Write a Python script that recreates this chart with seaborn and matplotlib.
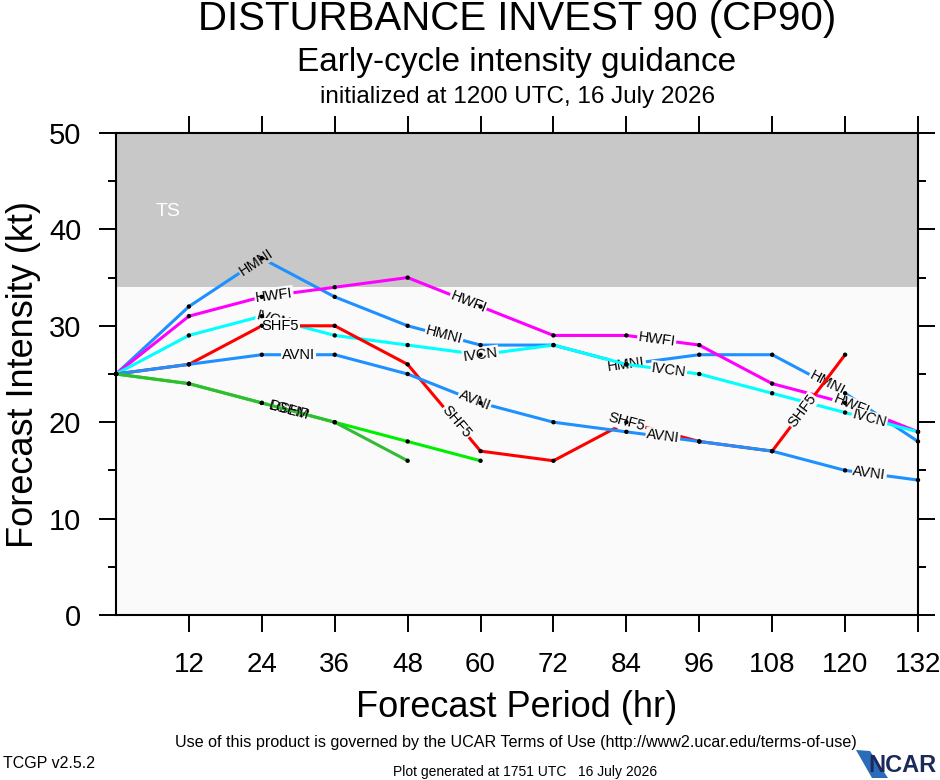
import numpy as np
import pandas as pd
import matplotlib
matplotlib.use("Agg")
import matplotlib.pyplot as plt
import seaborn as sns
from matplotlib.ticker import MultipleLocator
from matplotlib.patches import Polygon

# forecast hours and model intensities (kt)
hours = [0, 12, 24, 36, 48, 60, 72, 84, 96, 108, 120, 132]
hmni = [25, 32, 37, 33, 30, 28, 28, 26, 27, 27, 23, 18]
hwfi = [25, 31, 33, 34, 35, 32, 29, 29, 28, 24, 22, 19]
ivcn = [25, 29, 31, 29, 28, 27, 28, 26, 25, 23, 21, 19]
shf5 = [25, 26, 30, 30, 26, 17, 16, 20, 18, 17, 27, np.nan]
avni = [25, 26, 27, 27, 25, 22, 20, 19, 18, 17, 15, 14]
dshp = [25, 24, 22, 20, 18, 16] + [np.nan] * 6
lgem = [25, 24, 22, 20, 16] + [np.nan] * 7

models = ["HMNI", "HWFI", "IVCN", "SHF5", "AVNI", "DSHP", "LGEM"]
series = [hmni, hwfi, ivcn, shf5, avni, dshp, lgem]
colors = ["#1e90ff", "#ff00ff", "#00ffff", "#ff0000", "#1e90ff", "#00ee00", "#33bb33"]
xticks = [12, 24, 36, 48, 60, 72, 84, 96, 108, 120, 132]
yticks = [0, 10, 20, 30, 40, 50]
ts_floor = 34

# where the inline labels sit along each line (hours)
label_hours = {
    "HMNI": [23, 54, 84, 117],
    "HWFI": [26, 58, 89, 121],
    "IVCN": [26, 60, 91, 124],
    "SHF5": [27, 56, 84, 113],
    "AVNI": [30, 59, 90, 124],
    "DSHP": [28.5],
    "LGEM": [28.5],
}

rows = []
for m, vals in zip(models, series):
    for h, v in zip(hours, vals):
        if not np.isnan(v):
            rows.append({"model": m, "hour": h, "vmax": v})
df = pd.DataFrame(rows)

sns.set_theme(style="ticks")
plt.rcParams["font.family"] = ["Liberation Sans", "DejaVu Sans"]
for key in ["text.color", "axes.labelcolor", "xtick.color", "ytick.color"]:
    plt.rcParams[key] = "black"

fig = plt.figure(figsize=(9.4, 7.8), dpi=100)
ax = fig.add_axes([116 / 940, 1 - 615 / 780, (918 - 116) / 940, (615 - 133) / 780])
ax.set_facecolor("#fafafa")
ax.axhspan(ts_floor, 50, color="#c8c8c8", zorder=0, lw=0)
ax.text(8.5, 41.9, "TS", color="white", fontsize=14, ha="center", va="center")

ax.set_xlim(0, 132)
ax.set_ylim(0, 50)

for i, (m, c) in enumerate(zip(models, colors)):
    sub = df[df.model == m]
    z = 3 + 2 * i
    sns.lineplot(data=sub, x="hour", y="vmax", color=c, lw=2.2, ax=ax,
                 estimator=None, sort=False, zorder=z, clip_on=False)
    hx = sub.hour.values
    hy = sub.vmax.values
    for lh in label_hours[m]:
        ly = np.interp(lh, hx, hy)
        k = min(np.searchsorted(hx, lh, side="right"), len(hx) - 1)
        k = max(k, 1)
        ang = np.degrees(np.arctan2(hy[k] - hy[k - 1], hx[k] - hx[k - 1]))
        rot = ax.transData.transform_angles(np.array([ang]), np.array([[lh, ly]]))[0]
        bg = "#c8c8c8" if ly > ts_floor else "#fafafa"
        if m == "LGEM":
            bg = "none"
        ax.text(lh, ly, m, fontsize=10.5, rotation=rot, rotation_mode="anchor",
                ha="center", va="center", zorder=z + 1,
                bbox=dict(facecolor=bg, edgecolor="none", pad=0.6))

sns.scatterplot(data=df, x="hour", y="vmax", color="black", s=10, ax=ax,
                zorder=30, edgecolor="none", clip_on=False, legend=False)

ax.set_xticks(xticks)
ax.set_yticks(yticks)
ax.yaxis.set_minor_locator(MultipleLocator(5))
ax.tick_params(axis="both", which="major", direction="out", length=12, width=1.4,
               labelsize=20, top=True, right=True)
ax.tick_params(axis="y", which="major", pad=13, labelsize=21)
ax.tick_params(axis="x", which="major", pad=15)
ax.tick_params(axis="y", which="minor", direction="out", length=6, width=1.4,
               left=True, right=True)
for sp in ax.spines.values():
    sp.set_linewidth(1.5)
    sp.set_color("black")
    sp.set_zorder(40)

ax.set_xlabel("Forecast Period (hr)", fontsize=26, labelpad=8)
ax.set_ylabel("Forecast Intensity (kt)", fontsize=26, labelpad=6)

cx = 517 / 940
fig.text(cx, 1 - 19 / 780, "DISTURBANCE INVEST 90 (CP90)", fontsize=29,
         ha="center", va="center")
fig.text(cx, 1 - 62 / 780, "Early-cycle intensity guidance", fontsize=24,
         ha="center", va="center")
fig.text(cx, 1 - 97 / 780, "initialized at 1200 UTC, 16 July 2026", fontsize=17.5,
         ha="center", va="center")

narrow = ["Liberation Sans Narrow", "Liberation Sans", "DejaVu Sans"]
fig.text(516 / 940, 1 - 742 / 780,
         "Use of this product is governed by the UCAR Terms of Use (http://www2.ucar.edu/terms-of-use)",
         fontsize=11.6, ha="center", va="center", family=narrow)
fig.text(3 / 940, 1 - 763 / 780, "TCGP v2.5.2", fontsize=11.5, ha="left", va="center",
         family=narrow)
fig.text(525 / 940, 1 - 772 / 780, "Plot generated at 1751 UTC   16 July 2026",
         fontsize=10, ha="center", va="center", family=narrow)

# NCAR logo, roughly
fig.patches.append(Polygon([[856 / 940, 1 - 750 / 780], [870 / 940, 1 - 751 / 780],
                            [888 / 940, 1 - 778 / 780], [872 / 940, 1 - 778 / 780]],
                           closed=True, transform=fig.transFigure,
                           facecolor="#2a6cb8", edgecolor="none"))
fig.text(937 / 940, 1 - 765 / 780, "NCAR", fontsize=17, fontweight="bold",
         color="#1b2a5c", ha="right", va="center", family=narrow)

fig.savefig("out.png", dpi=100, facecolor="white")
